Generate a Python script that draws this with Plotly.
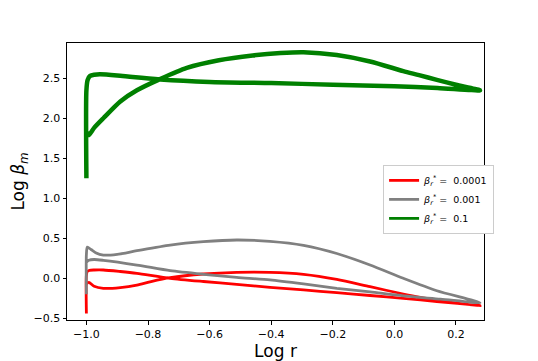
import plotly.graph_objects as go

# beta_r* = 0.0001 (red)
red_x = [-1.0, -1.0, -0.997, -0.99, -0.975, -0.945, -0.89, -0.836, -0.728, -0.62, -0.512, -0.404, -0.295,
         -0.187, -0.079, 0.029, 0.138, 0.278,
         0.2, 0.138, 0.08, 0.029, -0.079, -0.187, -0.295, -0.404, -0.512, -0.62, -0.728, -0.79, -0.836,
         -0.89, -0.945, -0.975, -0.992, -1.0]
red_y = [-0.44, 0.04, 0.085, 0.10, 0.104, 0.104, 0.085, 0.062, 0.0, -0.04, -0.075, -0.113, -0.145,
         -0.18, -0.215, -0.25, -0.29, -0.34,
         -0.31, -0.27, -0.235, -0.196, -0.105, -0.013, 0.05, 0.075, 0.075, 0.054, 0.008, -0.04, -0.084,
         -0.115, -0.125, -0.10, -0.05, -0.07]

# beta_r* = 0.001 (gray)
gray_x = [-1.0, -1.0, -0.997, -0.985, -0.97, -0.945, -0.9, -0.836, -0.728, -0.62, -0.512, -0.404, -0.295,
          -0.187, -0.079, 0.029, 0.138, 0.278,
          0.15, 0.029, -0.079, -0.187, -0.295, -0.404, -0.512, -0.62, -0.728, -0.836, -0.945, -0.975,
          -0.992, -1.0]
gray_y = [-0.2, 0.3, 0.39, 0.36, 0.32, 0.29, 0.30, 0.345, 0.416, 0.458, 0.479, 0.462, 0.412,
          0.31, 0.166, 0.0, -0.155, -0.305,
          -0.26, -0.22, -0.17, -0.125, -0.07, -0.02, 0.012, 0.05, 0.095, 0.166, 0.225, 0.235,
          0.225, 0.2]

# beta_r* = 0.1 (green)
green_x = [-1.0, -1.0, -0.996, -0.988, -0.975, -0.955, -0.9, -0.85, -0.76, -0.6, -0.4, -0.2, 0.0, 0.14, 0.278,
           0.2, 0.138, 0.08, 0.029, -0.079, -0.187, -0.295, -0.37, -0.46, -0.57, -0.674, -0.761, -0.836,
           -0.89, -0.945, -0.975, -0.993, -1.0]
green_y = [1.25, 2.35, 2.48, 2.53, 2.545, 2.55, 2.535, 2.515, 2.485, 2.455, 2.44, 2.42, 2.40, 2.38, 2.35,
           2.42, 2.48, 2.54, 2.59, 2.71, 2.79, 2.825, 2.815, 2.785, 2.725, 2.63, 2.49, 2.35,
           2.21, 2.0, 1.88, 1.79, 1.83]

labels = ["<i>β</i><sub><i>r</i></sub><sup>*</sup> =  0.0001",
          "<i>β</i><sub><i>r</i></sub><sup>*</sup> =  0.001",
          "<i>β</i><sub><i>r</i></sub><sup>*</sup> =  0.1"]
colors = ["red", "gray", "green"]
widths = [2.8, 2.8, 4.5]

fig = go.Figure()
for xs, ys, c, w in zip([red_x, gray_x, green_x], [red_y, gray_y, green_y], colors, widths):
    fig.add_trace(go.Scatter(x=xs, y=ys, mode="lines", showlegend=False,
                             line=dict(color=c, width=w, shape="spline", smoothing=0.7)))
# legend entries drawn with equal line widths, like the original
for lab, c in zip(labels, colors):
    fig.add_trace(go.Scatter(x=[None], y=[None], mode="lines", name=lab,
                             line=dict(color=c, width=2.8)))

axis_style = dict(showline=True, mirror=True, linecolor="black", linewidth=1,
                  ticks="outside", ticklen=3.5, tickwidth=0.8, tickcolor="black",
                  showgrid=False, zeroline=False, automargin=False,
                  tickfont=dict(family="DejaVu Sans", size=11, color="black"))

fig.update_xaxes(range=[-1.063, 0.291], dtick=0.2, tickformat=".1f",
                 title=dict(text="Log r", font=dict(family="DejaVu Sans", size=17, color="black"),
                            standoff=3),
                 **axis_style)
fig.update_yaxes(range=[-0.521, 2.941], dtick=0.5, tickformat=".1f",
                 title=dict(text="Log <i>β</i><sub><i>m</i></sub>",
                            font=dict(family="DejaVu Sans", size=17, color="black"), standoff=10),
                 **axis_style)

# the page adds an 8px body margin, so the figure is a little smaller than the window
fig.update_layout(
    width=530, height=353,
    margin=dict(l=59, r=54, t=35, b=41),
    plot_bgcolor="white", paper_bgcolor="white",
    font=dict(family="DejaVu Sans", color="black"),
    legend=dict(x=0.758, y=0.56, xanchor="left", yanchor="top",
                bgcolor="white", bordercolor="#cccccc", borderwidth=1,
                font=dict(family="DejaVu Sans", size=9.5, color="black"),
                tracegroupgap=0, itemwidth=30),
)

fig.write_html("out.html")
